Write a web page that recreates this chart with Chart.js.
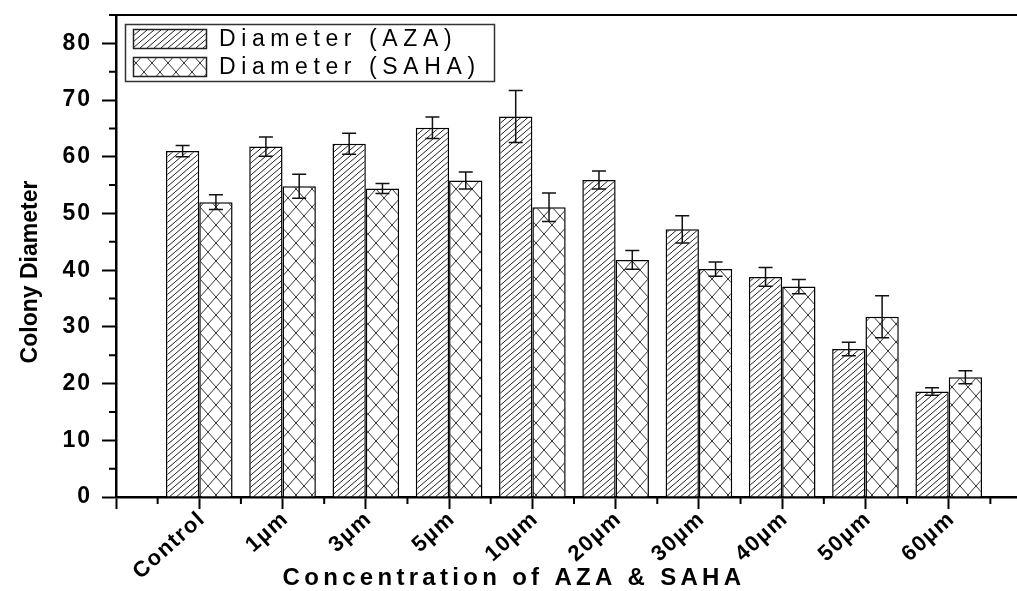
<!DOCTYPE html>
<html>
<head>
<meta charset="utf-8">
<script src="https://cdn.jsdelivr.net/npm/chart.js@4/dist/chart.umd.min.js"></script>
<style>
html, body { margin: 0; padding: 0; background: #fff; overflow: hidden; }
#wrap { width: 1060px; height: 591px; }
</style>
</head>
<body>
<div id="wrap"><canvas id="chart" width="1060" height="591"></canvas></div>
<script>
var categories = ['Control', '1µm', '3µm', '5µm', '10µm', '20µm', '30µm', '40µm', '50µm', '60µm'];
var azaValues = [61.0, 61.8, 62.3, 65.1, 67.1, 55.9, 47.2, 38.8, 26.1, 18.6];
var azaErrors = [1.0, 1.7, 1.85, 1.9, 4.6, 1.6, 2.4, 1.65, 1.2, 0.65];
var sahaValues = [52.0, 54.8, 54.4, 55.8, 51.1, 41.8, 40.2, 37.1, 31.8, 21.1];
var sahaErrors = [1.3, 2.1, 0.9, 1.5, 2.5, 1.65, 1.25, 1.25, 3.7, 1.15];

var FONT = '"Liberation Sans", Arial, sans-serif';
Chart.defaults.font.family = FONT;
Chart.defaults.color = '#000';

var canvas = document.getElementById('chart');
var ctx = canvas.getContext('2d');

// empty slot at each end so the axis runs from 0 to 11 like the original
function pad(arr, fill) {
	return [fill].concat(arr, [fill]);
}

function hatchPattern(w, h) {
	var c = document.createElement('canvas');
	c.width = w; c.height = h;
	var g = c.getContext('2d');
	g.fillStyle = '#fff';
	g.fillRect(0, 0, w, h);
	g.strokeStyle = '#222';
	g.lineWidth = 1;
	g.beginPath();
	for (var k = -1; k <= 1; k++) {
		g.moveTo(k * w, h);
		g.lineTo(k * w + w, 0);
	}
	g.stroke();
	return ctx.createPattern(c, 'repeat');
}

function crossPattern(w, h) {
	var c = document.createElement('canvas');
	c.width = w; c.height = h;
	var g = c.getContext('2d');
	g.fillStyle = '#fff';
	g.fillRect(0, 0, w, h);
	g.strokeStyle = '#333';
	g.lineWidth = 1;
	g.beginPath();
	for (var k = -1; k <= 1; k++) {
		g.moveTo(k * w, 0);
		g.lineTo(k * w + w, h);
		g.moveTo(k * w + w, 0);
		g.lineTo(k * w, h);
	}
	g.stroke();
	return ctx.createPattern(c, 'repeat');
}

// shift / letter-space a scale's text drawing
function wrapText(scale, method, spacing, dx, dy) {
	var orig = scale[method];
	scale[method] = function() {
		var c = this.ctx;
		c.save();
		c.translate(dx, dy);
		c.letterSpacing = spacing;
		orig.apply(this, arguments);
		c.restore();
	};
}

var textTweaks = {
	id: 'textTweaks',
	beforeDraw: function(chart) {
		var x = chart.scales.x, y = chart.scales.y;
		if (x._tweaked) return;
		wrapText(x, 'drawLabels', '1.5px', 3, -3);
		wrapText(x, 'drawTitle', '4.3px', -60, 6);
		wrapText(y, 'drawLabels', '2px', -10, 0);
		wrapText(y, 'drawTitle', '0px', 13, 16);
		x._tweaked = true;
	}
};

var errorBars = {
	id: 'errorBars',
	afterDatasetsDraw: function(chart) {
		var c = chart.ctx, y = chart.scales.y;
		c.save();
		c.strokeStyle = '#111';
		c.lineWidth = 1.5;
		chart.data.datasets.forEach(function(ds, di) {
			var meta = chart.getDatasetMeta(di);
			meta.data.forEach(function(bar, i) {
				var v = ds.data[i], e = ds.errors[i];
				if (v == null) return;
				var top = y.getPixelForValue(v + e), bot = y.getPixelForValue(v - e);
				c.beginPath();
				c.moveTo(bar.x, top); c.lineTo(bar.x, bot);
				c.moveTo(bar.x - 7, top); c.lineTo(bar.x + 7, top);
				c.moveTo(bar.x - 7, bot); c.lineTo(bar.x + 7, bot);
				c.stroke();
			});
		});
		c.restore();
	}
};

var frame = {
	id: 'frame',
	afterDraw: function(chart) {
		var c = chart.ctx, a = chart.chartArea, x = chart.scales.x, y = chart.scales.y;
		c.save();
		c.strokeStyle = '#000';
		c.lineWidth = 2;
		c.beginPath();
		// top border
		c.moveTo(a.left - 7, a.top); c.lineTo(chart.width, a.top);
		// minor ticks
		for (var v = 5; v < 85; v += 10) {
			var py = y.getPixelForValue(v);
			c.moveTo(a.left - 7, py); c.lineTo(a.left, py);
		}
		for (var i = 0; i < 11; i++) {
			var px = x.getPixelForValue(i + 0.5);
			c.moveTo(px, a.bottom); c.lineTo(px, a.bottom + 7);
		}
		c.stroke();

		// legend box inside the plot
		var lx = 125, ly = 24;
		c.lineWidth = 1.5;
		c.strokeStyle = '#333';
		c.strokeRect(lx + 0.5, ly + 0.5, 369, 57);
		c.font = '23px ' + FONT;
		c.textBaseline = 'middle';
		c.letterSpacing = '5.6px';
		chart.data.datasets.forEach(function(ds, di) {
			var ry = ly + 5 + di * 28;
			c.fillStyle = ds.backgroundColor;
			c.fillRect(lx + 8, ry, 74, 20);
			c.strokeStyle = '#222';
			c.strokeRect(lx + 8.5, ry + 0.5, 73, 19);
			c.fillStyle = '#000';
			c.fillText(ds.label, lx + 94, ry + 11);
		});
		c.restore();
	}
};

new Chart(ctx, {
	type: 'bar',
	data: {
		labels: pad(categories, ''),
		datasets: [{
			label: 'Diameter (AZA)',
			data: pad(azaValues, null),
			errors: pad(azaErrors, null),
			backgroundColor: hatchPattern(7, 6),
			borderColor: '#000',
			borderWidth: 1.5
		}, {
			label: 'Diameter (SAHA)',
			data: pad(sahaValues, null),
			errors: pad(sahaErrors, null),
			backgroundColor: crossPattern(16, 18),
			borderColor: '#000',
			borderWidth: 1.5
		}]
	},
	options: {
		responsive: false,
		animation: false,
		devicePixelRatio: 1,
		layout: { padding: { left: 0, top: 15, right: 28, bottom: 0 } },
		datasets: { bar: { categoryPercentage: 0.8, barPercentage: 1 } },
		plugins: { legend: { display: false }, tooltip: { enabled: false } },
		scales: {
			x: {
				offset: false,
				afterFit: function(s) { s.height = 94; },
				grid: { drawOnChartArea: false, offset: false, tickLength: 12, tickWidth: 2, tickColor: '#000' },
				border: { color: '#000', width: 2.5 },
				ticks: { autoSkip: false, maxRotation: 42, minRotation: 42, padding: 0,
					font: { size: 22, weight: 'bold' } },
				title: { display: true, text: 'Concentration of AZA & SAHA',
					font: { size: 24, weight: 'bold' }, padding: { top: 4, bottom: 4 } }
			},
			y: {
				min: 0, max: 85,
				afterFit: function(s) { s.width = 116; },
				grid: { drawOnChartArea: false, tickLength: 14, tickWidth: 2, tickColor: '#000' },
				border: { color: '#000', width: 2.5 },
				ticks: { stepSize: 10, includeBounds: false, padding: 0,
					font: { size: 23, weight: 'bold' } },
				title: { display: true, text: 'Colony Diameter',
					font: { size: 23, weight: 'bold' }, padding: { top: 4, bottom: 4 } }
			}
		}
	},
	plugins: [textTweaks, errorBars, frame]
});
</script>
</body>
</html>
